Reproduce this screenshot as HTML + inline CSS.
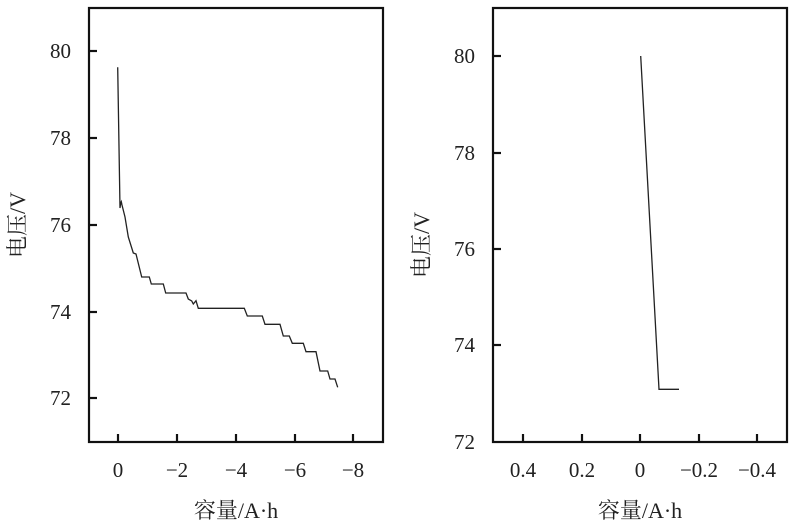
<!DOCTYPE html>
<html><head><meta charset="utf-8"><style>
html,body{margin:0;padding:0;background:#fff;}
svg text{font-family:"Liberation Serif","Noto Serif CJK SC",serif;fill:#222;}
</style></head><body>
<svg width="800" height="524" viewBox="0 0 800 524" xmlns="http://www.w3.org/2000/svg">
<rect width="800" height="524" fill="#fff"/>
<rect x="89" y="8" width="294" height="434" fill="none" stroke="#111" stroke-width="2.2"/>
<g stroke="#111" stroke-width="2.2">
<line x1="89" y1="51" x2="97" y2="51"/><line x1="89" y1="138" x2="97" y2="138"/>
<line x1="89" y1="225" x2="97" y2="225"/><line x1="89" y1="312" x2="97" y2="312"/>
<line x1="89" y1="398" x2="97" y2="398"/>
<line x1="118" y1="442" x2="118" y2="434"/><line x1="177" y1="442" x2="177" y2="434"/>
<line x1="236" y1="442" x2="236" y2="434"/><line x1="295" y1="442" x2="295" y2="434"/>
<line x1="353" y1="442" x2="353" y2="434"/>
</g>
<polyline fill="none" stroke="#222" stroke-width="1.3" points="117.7,67.3 120,208 120.7,203 121.3,201.7 122,205 125,217 128.3,237 133.3,253 136,254 141.7,277 149.3,277 151.3,284 163.3,284 165.7,293 186,293 188.3,299 191.7,301 193.3,304 196,300.7 198.3,308.3 244.3,308.3 247.3,316 262.3,316 265,324.3 280,324.3 283.3,336 289.3,336 292.3,343.3 303.3,343.3 306,351.7 316,351.7 320,371 327.7,371 330,379 335,379 337.7,387.3"/>
<g font-size="21" text-anchor="end">
<text x="71" y="58">80</text><text x="71" y="145">78</text><text x="71" y="232">76</text>
<text x="71" y="319">74</text><text x="71" y="405">72</text>
</g>
<g font-size="21" text-anchor="middle">
<text x="118" y="477">0</text><text x="177" y="477">−2</text><text x="236" y="477">−4</text>
<text x="295" y="477">−6</text><text x="353" y="477">−8</text>
</g>
<text font-size="22" x="236" y="518" text-anchor="middle">容量/A·h</text>
<text font-size="22" text-anchor="middle" transform="translate(25,225) rotate(-90)">电压/V</text>
<rect x="493" y="8" width="294" height="434" fill="none" stroke="#111" stroke-width="2.2"/>
<g stroke="#111" stroke-width="2.2">
<line x1="493" y1="56" x2="501" y2="56"/><line x1="493" y1="153" x2="501" y2="153"/>
<line x1="493" y1="249" x2="501" y2="249"/><line x1="493" y1="345" x2="501" y2="345"/>
<line x1="523" y1="442" x2="523" y2="434"/><line x1="582" y1="442" x2="582" y2="434"/>
<line x1="640" y1="442" x2="640" y2="434"/><line x1="699" y1="442" x2="699" y2="434"/>
<line x1="757" y1="442" x2="757" y2="434"/>
</g>
<polyline fill="none" stroke="#222" stroke-width="1.3" points="640.7,56 659,389.3 679,389.3"/>
<g font-size="21" text-anchor="end">
<text x="475" y="63">80</text><text x="475" y="160">78</text><text x="475" y="256">76</text>
<text x="475" y="352">74</text><text x="475" y="449">72</text>
</g>
<g font-size="21" text-anchor="middle">
<text x="523" y="477">0.4</text><text x="582" y="477">0.2</text><text x="640" y="477">0</text>
<text x="699" y="477">−0.2</text><text x="757" y="477">−0.4</text>
</g>
<text font-size="22" x="640" y="518" text-anchor="middle">容量/A·h</text>
<text font-size="22" text-anchor="middle" transform="translate(429,245) rotate(-90)">电压/V</text>
</svg>
</body></html>
